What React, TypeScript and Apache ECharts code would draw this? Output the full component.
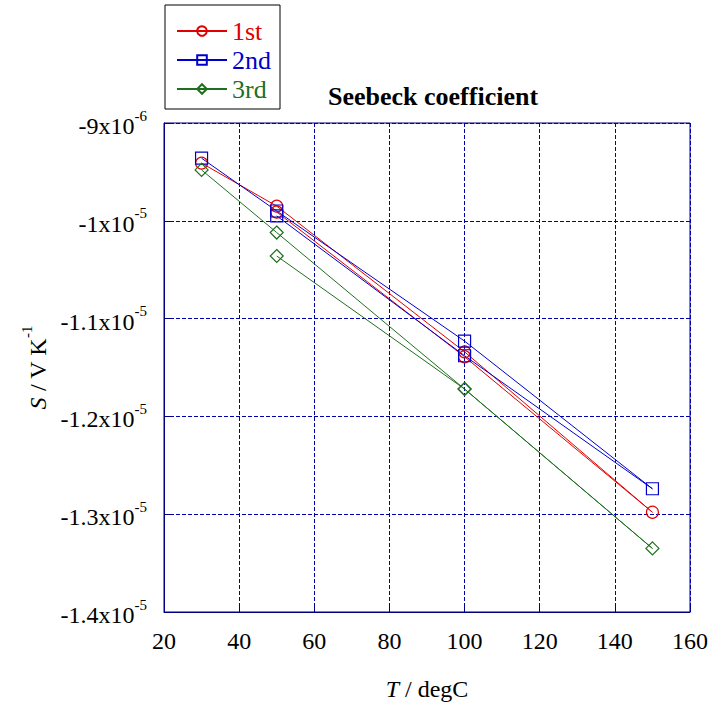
import React, { useEffect, useRef } from "react";
import * as echarts from "echarts";

const temperatures = [30, 50, 100, 150, 100, 50];
const series1st = [-9.41e-6, -9.85e-6, -11.34e-6, -12.98e-6, -11.39e-6, -9.91e-6];
const series2nd = [-9.36e-6, -9.9e-6, -11.23e-6, -12.74e-6, -11.38e-6, -9.95e-6];
const series3rd = [-9.48e-6, -10.12e-6, -11.72e-6, -13.35e-6, -11.72e-6, -10.36e-6];
const seriesNames = ["1st", "2nd", "3rd"];
// tick labels for y = -14 .. -9 (units of 1e-6)
const yTickMantissa = ["-1.4", "-1.3", "-1.2", "-1.1", "-1", "-9"];
const yTickExponent = ["-5", "-5", "-5", "-5", "-5", "-6"];

const RED = "#e00000";
const BLUE = "#0000cc";
const GREEN = "#1f6f1f";
const NAVY = "#000080";
const GRIDC = "#0000a8";
const FONT = "Liberation Serif";

export default function App() {
  const ref = useRef<HTMLDivElement>(null);
  useEffect(() => {
    document.body.style.margin = "0";
    if (!ref.current) return;
    const chart = echarts.init(ref.current, undefined, { renderer: "svg" });
    const toPairs = (vals: number[]) => temperatures.map((t, i) => [t, vals[i] * 1e6]);
    const mk = (name: string, vals: number[], color: string, symbol: string, size: number) => ({
      name,
      type: "line",
      data: toPairs(vals),
      symbol,
      symbolSize: size,
      lineStyle: { color, width: 1 },
      itemStyle: { color: "transparent", borderColor: color, borderWidth: 1.2 },
      emphasis: { disabled: true },
    });
    const supRich = {
      b: { fontFamily: FONT, fontSize: 24, color: "#000", verticalAlign: "bottom", lineHeight: 30 },
      i: { fontFamily: FONT, fontStyle: "italic", fontSize: 24, color: "#000", verticalAlign: "bottom", lineHeight: 30 },
      s: { fontFamily: FONT, fontSize: 15, color: "#000", verticalAlign: "top", lineHeight: 16 },
    };
    chart.setOption({
      animation: false,
      textStyle: { fontFamily: FONT },
      title: {
        text: "Seebeck coefficient",
        left: 323,
        top: 78,
        textStyle: { fontFamily: FONT, fontWeight: "bold", fontSize: 26, color: "#000" },
      },
      legend: {
        orient: "vertical",
        left: 165,
        top: 5,
        padding: [13, 9, 7, 11],
        itemWidth: 50,
        itemHeight: 12,
        itemGap: 3,
        borderColor: "#000",
        borderWidth: 1,
        backgroundColor: "#fff",
        textStyle: { fontFamily: FONT, fontSize: 26 },
        data: [
          { name: seriesNames[0], textStyle: { color: RED, fontFamily: FONT, fontSize: 26 } },
          { name: seriesNames[1], textStyle: { color: BLUE, fontFamily: FONT, fontSize: 26 } },
          { name: seriesNames[2], textStyle: { color: GREEN, fontFamily: FONT, fontSize: 26 } },
        ],
      },
      grid: {
        left: 164,
        top: 123,
        width: 526,
        height: 490,
        show: true,
        borderColor: NAVY,
        borderWidth: 1,
        backgroundColor: "transparent",
      },
      xAxis: {
        type: "value",
        min: 20,
        max: 160,
        interval: 20,
        name: "{i|T}{b| / degC}",
        nameLocation: "middle",
        nameGap: 59,
        nameTextStyle: { fontFamily: FONT, fontSize: 24, color: "#000", rich: supRich },
        axisLine: { show: true, lineStyle: { color: NAVY, width: 1 } },
        axisTick: { show: true, inside: true, length: 7, lineStyle: { color: NAVY } },
        axisLabel: { fontFamily: FONT, fontSize: 24, color: "#000", margin: 17 },
        splitLine: { show: true, lineStyle: { color: GRIDC, type: [4, 2], width: 1 } },
      },
      yAxis: {
        type: "value",
        min: -14,
        max: -9,
        interval: 1,
        name: "{i|S}{b| / V K}{s|-1}",
        nameLocation: "middle",
        nameRotate: 90,
        nameGap: 110,
        nameTextStyle: { fontFamily: FONT, fontSize: 24, color: "#000", rich: supRich },
        axisLine: { show: true, lineStyle: { color: NAVY, width: 1 } },
        axisTick: { show: true, inside: true, length: 7, lineStyle: { color: NAVY } },
        axisLabel: {
          margin: 17,
          fontFamily: FONT,
          formatter: (v: number) => {
            const i = Math.round(v) + 14;
            return `{b|${yTickMantissa[i]}x10}{s|${yTickExponent[i]}}`;
          },
          rich: supRich,
        },
        splitLine: { show: true, lineStyle: { color: GRIDC, type: [4, 2], width: 1 } },
      },
      series: [
        mk(seriesNames[0], series1st, RED, "circle", 12),
        mk(seriesNames[1], series2nd, BLUE, "rect", 12),
        mk(seriesNames[2], series3rd, GREEN, "diamond", 13),
      ],
    });
    return () => chart.dispose();
  }, []);
  return <div ref={ref} style={{ width: 722, height: 706 }} />;
}
